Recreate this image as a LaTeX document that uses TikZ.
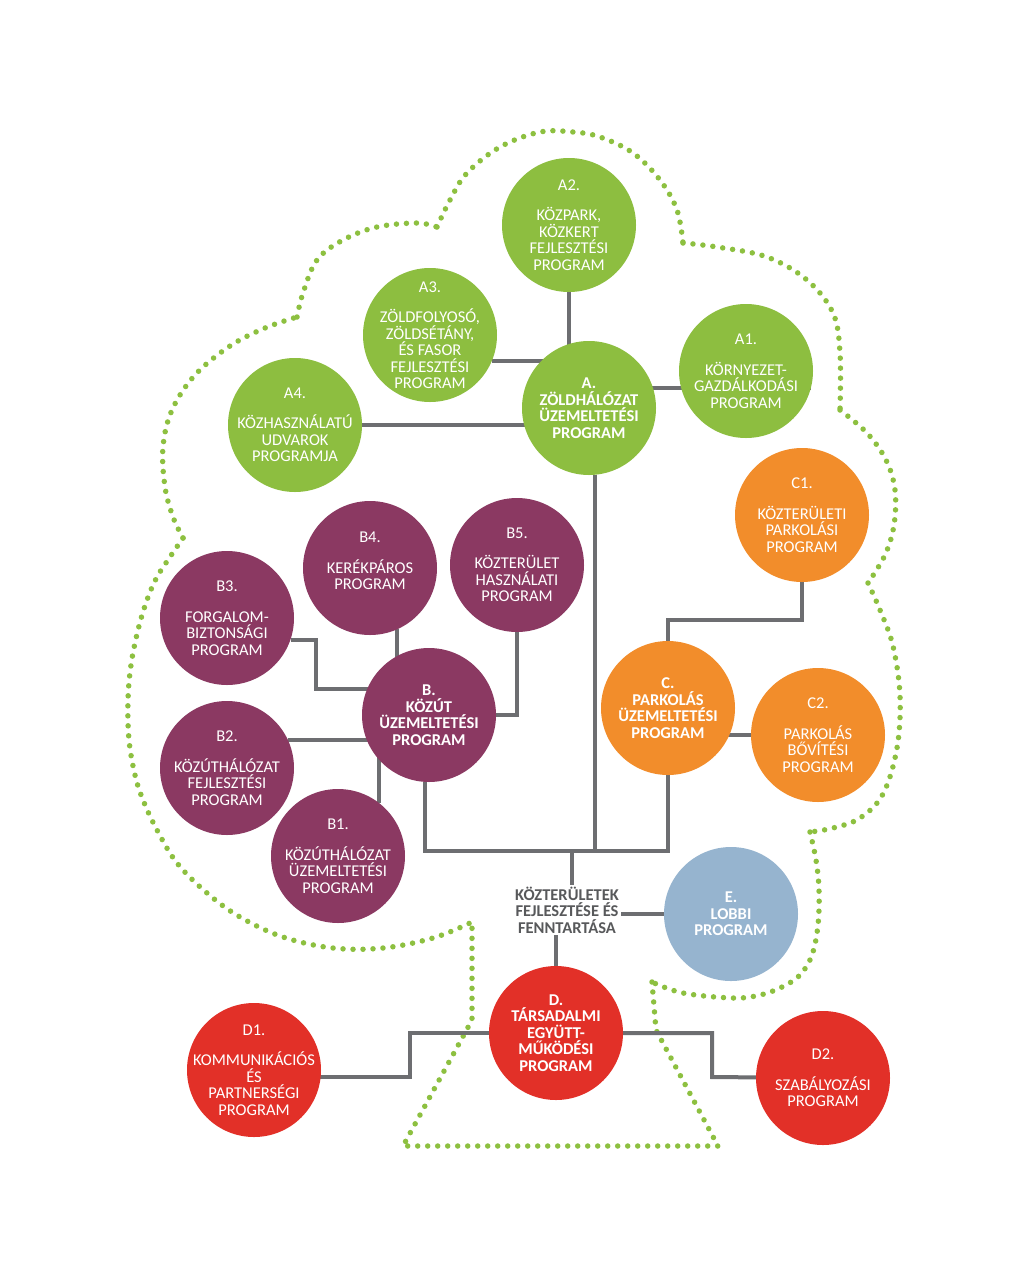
\documentclass[tikz,border=0pt]{standalone}
\usepackage{fontspec}
\setmainfont{Carlito}
\usetikzlibrary{backgrounds}
\definecolor{cgreen}{HTML}{8DBE40}
\definecolor{cpurple}{HTML}{8B3962}
\definecolor{corange}{HTML}{F28D2B}
\definecolor{cred}{HTML}{E23028}
\definecolor{cblue}{HTML}{96B4CF}
\definecolor{cline}{HTML}{6D6E71}
\definecolor{ctext}{HTML}{58595B}
\definecolor{cdot}{HTML}{8DC040}
\begin{document}
\begin{tikzpicture}[x=1pt,y=-1pt,
  bub/.style={circle,minimum size=134pt,inner sep=0pt,draw=none},
  gbub/.style={bub,fill=cgreen},
  pbub/.style={bub,fill=cpurple},
  obub/.style={bub,fill=corange},
  rbub/.style={bub,fill=cred},
  ebub/.style={bub,fill=cblue},
  txt/.style={text=white,align=center,inner sep=0pt,font=\fontsize{16.5}{16.5}\selectfont},
  mtxt/.style={txt,font=\fontsize{16.5}{16.5}\selectfont\bfseries},
  ktxt/.style={text=ctext,align=center,inner sep=2pt,font=\fontsize{16.5}{16.5}\selectfont\bfseries},
  conn/.style={draw=cline,line width=4pt},
  dots/.style={draw=cdot,line width=5.5pt,dash pattern=on 0pt off 10pt,line cap=round}]
\useasboundingbox (0,0) rectangle (1024,1272);

% circles
\node[gbub] (A2) at (569,225) {};
\node[gbub] (A3) at (430,335) {};
\node[gbub] (A)  at (589,408) {};
\node[gbub] (A1) at (746,371) {};
\node[gbub] (A4) at (295,425) {};
\node[pbub] (B4) at (370,568) {};
\node[pbub] (B5) at (517,565) {};
\node[pbub] (B3) at (227,618) {};
\node[pbub] (B)  at (429,715) {};
\node[pbub] (B2) at (227,768) {};
\node[pbub] (B1) at (338,856) {};
\node[obub] (C1) at (802,515) {};
\node[obub] (C)  at (668,708) {};
\node[obub] (C2) at (818,735) {};
\node[ebub] (E)  at (731,914) {};
\node[rbub] (D)  at (556,1033) {};
\node[rbub] (D1) at (254,1070) {};
\node[rbub] (D2) at (823,1078) {};

% texts
\node[txt]  (A2t) at (A2) {A2.\\[14pt]KÖZPARK,\\KÖZKERT\\FEJLESZTÉSI\\PROGRAM};
\node[txt]  (A3t) at (A3) {A3.\\[14pt]ZÖLDFOLYOSÓ,\\ZÖLDSÉTÁNY,\\ÉS FASOR\\FEJLESZTÉSI\\PROGRAM};
\node[mtxt] (At)  at (A)  {A.\\ZÖLDHÁLÓZAT\\ÜZEMELTETÉSI\\PROGRAM};
\node[txt]  (A1t) at (A1) {A1.\\[14pt]KÖRNYEZET-\\GAZDÁLKODÁSI\\PROGRAM};
\node[txt]  (A4t) at (A4) {A4.\\[14pt]KÖZHASZNÁLATÚ\\UDVAROK\\PROGRAMJA};
\node[txt]  (B4t) at ([yshift=7pt]B4.center) {B4.\\[14pt]KERÉKPÁROS\\PROGRAM};
\node[txt]  (B5t) at (B5) {B5.\\[14pt]KÖZTERÜLET\\HASZNÁLATI\\PROGRAM};
\node[txt]  (B3t) at (B3) {B3.\\[14pt]FORGALOM-\\BIZTONSÁGI\\PROGRAM};
\node[mtxt] (Bt)  at (B)  {B.\\KÖZÚT\\ÜZEMELTETÉSI\\PROGRAM};
\node[txt]  (B2t) at (B2) {B2.\\[14pt]KÖZÚTHÁLÓZAT\\FEJLESZTÉSI\\PROGRAM};
\node[txt]  (B1t) at (B1) {B1.\\[14pt]KÖZÚTHÁLÓZAT\\ÜZEMELTETÉSI\\PROGRAM};
\node[txt]  (C1t) at (C1) {C1.\\[14pt]KÖZTERÜLETI\\PARKOLÁSI\\PROGRAM};
\node[mtxt] (Ct)  at (C)  {C.\\PARKOLÁS\\ÜZEMELTETÉSI\\PROGRAM};
\node[txt]  (C2t) at (C2) {C2.\\[14pt]PARKOLÁS\\BŐVÍTÉSI\\PROGRAM};
\node[mtxt] (Et)  at (E)  {E.\\LOBBI\\PROGRAM};
\node[mtxt] (Dt)  at (D)  {D.\\TÁRSADALMI\\EGYÜTT-\\MŰKÖDÉSI\\PROGRAM};
\node[txt]  (D1t) at (D1) {D1.\\[14pt]KOMMUNIKÁCIÓS\\ÉS\\PARTNERSÉGI\\PROGRAM};
\node[txt]  (D2t) at (D2) {D2.\\[14pt]SZABÁLYOZÁSI\\PROGRAM};
\node[ktxt] (K) at (567,910) {KÖZTERÜLETEK\\FEJLESZTÉSE ÉS\\FENNTARTÁSA};

\coordinate (T) at (572,851);
\coordinate (b3k) at (316,689);
\coordinate (ck) at (668,620);
\coordinate (dl) at (410,1077);
\coordinate (dr) at (712,1077);

\begin{pgfonlayer}{background}
\fill[white] (0,0) rectangle (1024,1272);
% tree outline
\draw[dots] plot[smooth,tension=0.6] coordinates {(183,538) (170,557) (157,577) (147,600) (138,630) (131,665) (128,700) (129,740) (135,775) (143,800) (157,830) (177,863) (207,893) (240,917) (283,937) (333,948) (383,948) (433,938) (470,923)};
\draw[dots] plot[smooth,tension=0.6] coordinates {(183,538) (173,517) (165,487) (163,447) (172,410) (195,375) (230,346) (265,328) (297,317)};
\draw[dots] plot[smooth,tension=0.6] coordinates {(297,317) (303,293) (317,260) (343,240) (377,227) (417,223) (437,227)};
\draw[dots] plot[smooth,tension=0.6] coordinates {(437,227) (450,200) (467,173) (500,147) (540,132) (573,132) (600,137) (633,153) (660,180) (677,210) (683,243)};
\draw[dots] plot[smooth,tension=0.6] coordinates {(683,243) (717,247) (767,257) (807,280) (833,313) (840,353) (840,410)};
\draw[dots] plot[smooth,tension=0.6] coordinates {(840,410) (867,433) (886,460) (895,490) (894,525) (885,555) (868,583)};
\draw[dots] plot[smooth,tension=0.6] coordinates {(868,583) (880,610) (893,646) (900,696) (897,748) (883,794) (860,818) (833,828) (810,832)};
\draw[dots] plot[smooth,tension=0.6] coordinates {(810,832) (816,860) (819,890) (818,925) (812,955) (800,975) (782,987) (760,995) (733,998) (683,993) (652,982)};
\draw[dots] (652,982) -- (656,1030) -- (718,1146) -- (403,1146) -- (472,1020) -- (472,923);

% connectors
\draw[conn] (A2) -- (A2 |- A);
\draw[conn] (A3.-23) -- (A3.-23 -| A);
\draw[conn] (A4) -- (A4 -| A);
\draw[conn] (A1.-15) -- (A1.-15 -| A);
\draw[conn] (A.-85) -- (A.-85 |- T);
\draw[conn] (B.-93) |- (C |- T) -- (C);
\draw[conn] (T) -- (T |- K.north);
\draw[conn] (D) -- (D |- K.south);
\draw[conn] (E) -- (E -| K.east);
\draw[conn] (B3.-19) -| (b3k) -- (b3k -| B);
\draw[conn] (B4.-66) -- (B4.-66 |- B);
\draw[conn] (B5) |- (B);
\draw[conn] (B2.25) -- (B2.25 -| B);
\draw[conn] (B1.52) -- (B1.52 |- B);
\draw[conn] (C1) |- (C |- ck) -- (C);
\draw[conn] (C2) -- (C2 -| C);
\draw[conn] (D) -| (dl) -- (dl -| D1);
\draw[conn] (D) -| (dr) -- (D2);
\end{pgfonlayer}
\end{tikzpicture}
\end{document}
